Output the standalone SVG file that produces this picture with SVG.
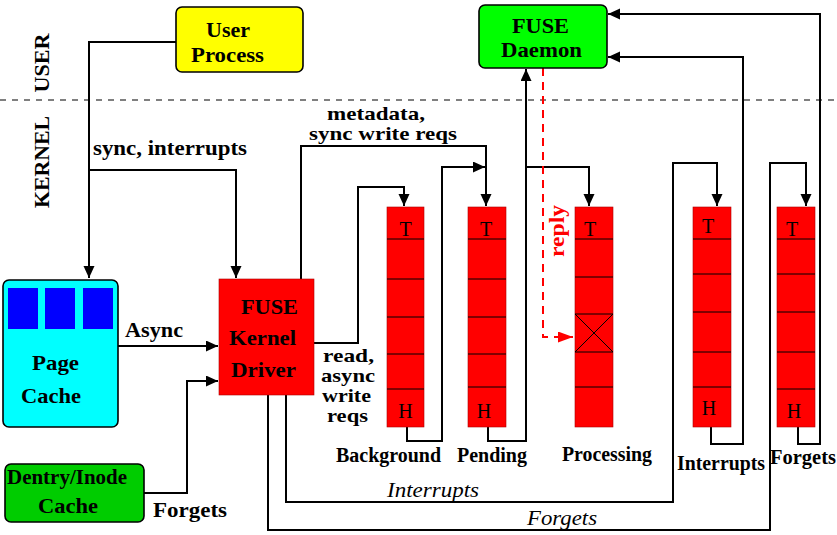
<svg xmlns="http://www.w3.org/2000/svg" width="837" height="535" viewBox="0 0 837 535">
<style>
text{font-family:"Liberation Serif","Times New Roman",serif}
.b{font-size:22px;font-weight:bold;fill:#000}
.s{font-size:19px}
.q{font-size:20px;font-weight:bold;fill:#000;text-anchor:middle}
.it{font-size:22px;font-style:italic;fill:#000;text-anchor:middle}
.c{text-anchor:middle}
.th{font-size:20px;fill:#000;text-anchor:middle}
.ln{fill:none;stroke:#000;stroke-width:2}
.cell{stroke:#000;stroke-width:1}
.qbox{fill:#ff0000;stroke:#a00;stroke-width:0.6}
</style>
<defs>
<marker id="ah" markerUnits="userSpaceOnUse" markerWidth="13" markerHeight="12" refX="12" refY="5.5" orient="auto">
<path d="M0,0 L12,5.5 L0,11 z" fill="#000"/>
</marker>
<marker id="ahr" markerUnits="userSpaceOnUse" markerWidth="16" markerHeight="12" refX="15" refY="5.5" orient="auto">
<path d="M0,0 L15,5.5 L0,11 z" fill="#ff0000"/>
</marker>
</defs>
<rect width="837" height="535" fill="#fff"/>

<line x1="0" y1="100" x2="837" y2="100" stroke="#000" stroke-width="1.2" stroke-dasharray="6,6"/>
<text class="b c" transform="translate(49,63) rotate(-90)" textLength="59" lengthAdjust="spacingAndGlyphs">USER</text>
<text class="b c" transform="translate(49,162) rotate(-90)" textLength="92" lengthAdjust="spacingAndGlyphs">KERNEL</text>

<g id="connectors">
<polyline class="ln" points="176,42 89,42 89,278" marker-end="url(#ah)"/>
<polyline class="ln" points="89,170 236,170 236,278" marker-end="url(#ah)"/>
<polyline class="ln" points="118,346 218,346" marker-end="url(#ah)"/>
<polyline class="ln" points="144,493 187,493 187,381 218,381" marker-end="url(#ah)"/>
<polyline class="ln" points="301,279 301,146 486,146 486,206" marker-end="url(#ah)"/>
<polyline class="ln" points="314,343 358,343 358,187 404,187 404,206" marker-end="url(#ah)"/>
<polyline class="ln" points="286,395 286,502 673,502 673,163 717,163 717,206" marker-end="url(#ah)"/>
<polyline class="ln" points="268,395 268,530 770,530 770,163 806,163 806,206" marker-end="url(#ah)"/>
<polyline class="ln" points="407,427 407,441 442,441 442,167 485,167" marker-end="url(#ah)"/>
<polyline class="ln" points="488,427 488,441 526,441 526,69" marker-end="url(#ah)"/>
<polyline class="ln" points="526,167 589,167 589,206" marker-end="url(#ah)"/>
<polyline class="ln" points="711,427 711,444 743,444 743,57 608,57" marker-end="url(#ah)"/>
<polyline class="ln" points="798,427 798,444 820,444 820,14 608,14" marker-end="url(#ah)"/>
<polyline fill="none" stroke="#ff0000" stroke-width="2" stroke-dasharray="8,6" points="543,68 543,337 573,337" marker-end="url(#ahr)"/>
</g>

<g id="user-process">
<rect x="176" y="7" width="127" height="65" rx="6" fill="#ffff00" stroke="#000" stroke-width="1.6"/>
<text class="b c" x="228" y="37" textLength="44" lengthAdjust="spacingAndGlyphs">User</text>
<text class="b c" x="227.5" y="62" textLength="73" lengthAdjust="spacingAndGlyphs">Process</text>
</g>

<g id="fuse-daemon">
<rect x="479" y="5" width="128" height="63" rx="6" fill="#00ff00" stroke="#000" stroke-width="1.6"/>
<text class="b c" x="540.5" y="33" textLength="57" lengthAdjust="spacingAndGlyphs">FUSE</text>
<text class="b c" x="541.5" y="57" textLength="81" lengthAdjust="spacingAndGlyphs">Daemon</text>
</g>

<g id="page-cache">
<rect x="3" y="280" width="115" height="147" rx="6" fill="#00ffff" stroke="#000" stroke-width="1.6"/>
<rect x="8" y="288" width="30" height="41" fill="#0000ff"/>
<rect x="45" y="288" width="30" height="41" fill="#0000ff"/>
<rect x="83" y="288" width="30" height="41" fill="#0000ff"/>
<text class="b c" x="55.5" y="370" textLength="47" lengthAdjust="spacingAndGlyphs">Page</text>
<text class="b c" x="51" y="403" textLength="60" lengthAdjust="spacingAndGlyphs">Cache</text>
</g>

<g id="fuse-kernel-driver">
<rect x="219" y="279" width="95" height="116" fill="#ff0000" stroke="#a00" stroke-width="0.6"/>
<text class="b c" x="269.5" y="314" textLength="57" lengthAdjust="spacingAndGlyphs">FUSE</text>
<text class="b c" x="262.5" y="345" textLength="67" lengthAdjust="spacingAndGlyphs">Kernel</text>
<text class="b c" x="263.5" y="377" textLength="65" lengthAdjust="spacingAndGlyphs">Driver</text>
</g>

<g id="dentry-inode-cache">
<rect x="5" y="464" width="139" height="58" rx="6" fill="#00cc00" stroke="#000" stroke-width="1.6"/>
<text class="b c" x="67" y="484" textLength="120" lengthAdjust="spacingAndGlyphs">Dentry/Inode</text>
<text class="b c" x="68" y="513" textLength="60" lengthAdjust="spacingAndGlyphs">Cache</text>
</g>

<g id="labels">
<text class="b" x="93" y="155" textLength="154" lengthAdjust="spacingAndGlyphs">sync, interrupts</text>
<text class="b" x="125" y="337" textLength="58" lengthAdjust="spacingAndGlyphs">Async</text>
<text class="b" x="153" y="517" textLength="74" lengthAdjust="spacingAndGlyphs">Forgets</text>
<text class="b c s" x="376" y="120" textLength="98" lengthAdjust="spacingAndGlyphs">metadata,</text>
<text class="b c s" x="383" y="140" textLength="148" lengthAdjust="spacingAndGlyphs">sync write reqs</text>
<text class="b c s" x="348.5" y="362" textLength="51" lengthAdjust="spacingAndGlyphs">read,</text>
<text class="b c s" x="348" y="382" textLength="54" lengthAdjust="spacingAndGlyphs">async</text>
<text class="b c s" x="346.5" y="402" textLength="49" lengthAdjust="spacingAndGlyphs">write</text>
<text class="b c s" x="347.5" y="422" textLength="41" lengthAdjust="spacingAndGlyphs">reqs</text>
<text class="it" x="433" y="497" textLength="92" lengthAdjust="spacingAndGlyphs">Interrupts</text>
<text class="it" x="562" y="525" textLength="70" lengthAdjust="spacingAndGlyphs">Forgets</text>
<text class="b c" style="fill:#ff0000;font-size:20px" transform="translate(564,231) rotate(-90)" textLength="52" lengthAdjust="spacingAndGlyphs">reply</text>
</g>

<g id="q-background">
<rect class="qbox" x="387" y="207" width="37" height="220"/>
<line class="cell" x1="387" y1="239" x2="424" y2="239"/>
<line class="cell" x1="387" y1="279" x2="424" y2="279"/>
<line class="cell" x1="387" y1="317" x2="424" y2="317"/>
<line class="cell" x1="387" y1="354" x2="424" y2="354"/>
<line class="cell" x1="387" y1="389" x2="424" y2="389"/>
<text class="th" x="405.5" y="236">T</text>
<text class="th" x="405.5" y="418">H</text>
<text class="q" x="388.5" y="462" textLength="105" lengthAdjust="spacingAndGlyphs">Background</text>
</g>

<g id="q-pending">
<rect class="qbox" x="468" y="207" width="38" height="220"/>
<line class="cell" x1="468" y1="239" x2="506" y2="239"/>
<line class="cell" x1="468" y1="279" x2="506" y2="279"/>
<line class="cell" x1="468" y1="317" x2="506" y2="317"/>
<line class="cell" x1="468" y1="354" x2="506" y2="354"/>
<line class="cell" x1="468" y1="387" x2="506" y2="387"/>
<text class="th" x="486" y="236">T</text>
<text class="th" x="484" y="418">H</text>
<text class="q" x="492" y="462" textLength="70" lengthAdjust="spacingAndGlyphs">Pending</text>
</g>

<g id="q-processing">
<rect class="qbox" x="575" y="207" width="38" height="220"/>
<line class="cell" x1="575" y1="239" x2="613" y2="239"/>
<line class="cell" x1="575" y1="277" x2="613" y2="277"/>
<line class="cell" x1="575" y1="314" x2="613" y2="314"/>
<line class="cell" x1="575" y1="352" x2="613" y2="352"/>
<line class="cell" x1="575" y1="387" x2="613" y2="387"/>
<line class="cell" x1="575" y1="314" x2="613" y2="352"/>
<line class="cell" x1="613" y1="314" x2="575" y2="352"/>
<text class="th" x="590" y="236">T</text>
<text class="q" x="607" y="461" textLength="90" lengthAdjust="spacingAndGlyphs">Processing</text>
</g>

<g id="q-interrupts">
<rect class="qbox" x="693" y="207" width="38" height="220"/>
<line class="cell" x1="693" y1="239" x2="731" y2="239"/>
<line class="cell" x1="693" y1="274" x2="731" y2="274"/>
<line class="cell" x1="693" y1="312" x2="731" y2="312"/>
<line class="cell" x1="693" y1="352" x2="731" y2="352"/>
<line class="cell" x1="693" y1="387" x2="731" y2="387"/>
<text class="th" x="708" y="233">T</text>
<text class="th" x="709" y="415">H</text>
<text class="q" x="721" y="470" textLength="88" lengthAdjust="spacingAndGlyphs">Interrupts</text>
</g>

<g id="q-forgets">
<rect class="qbox" x="777" y="207" width="38" height="220"/>
<line class="cell" x1="777" y1="239" x2="815" y2="239"/>
<line class="cell" x1="777" y1="274" x2="815" y2="274"/>
<line class="cell" x1="777" y1="312" x2="815" y2="312"/>
<line class="cell" x1="777" y1="352" x2="815" y2="352"/>
<line class="cell" x1="777" y1="389" x2="815" y2="389"/>
<text class="th" x="792" y="236">T</text>
<text class="th" x="794" y="418">H</text>
<text class="q" x="803" y="464" textLength="66" lengthAdjust="spacingAndGlyphs">Forgets</text>
</g>
</svg>
